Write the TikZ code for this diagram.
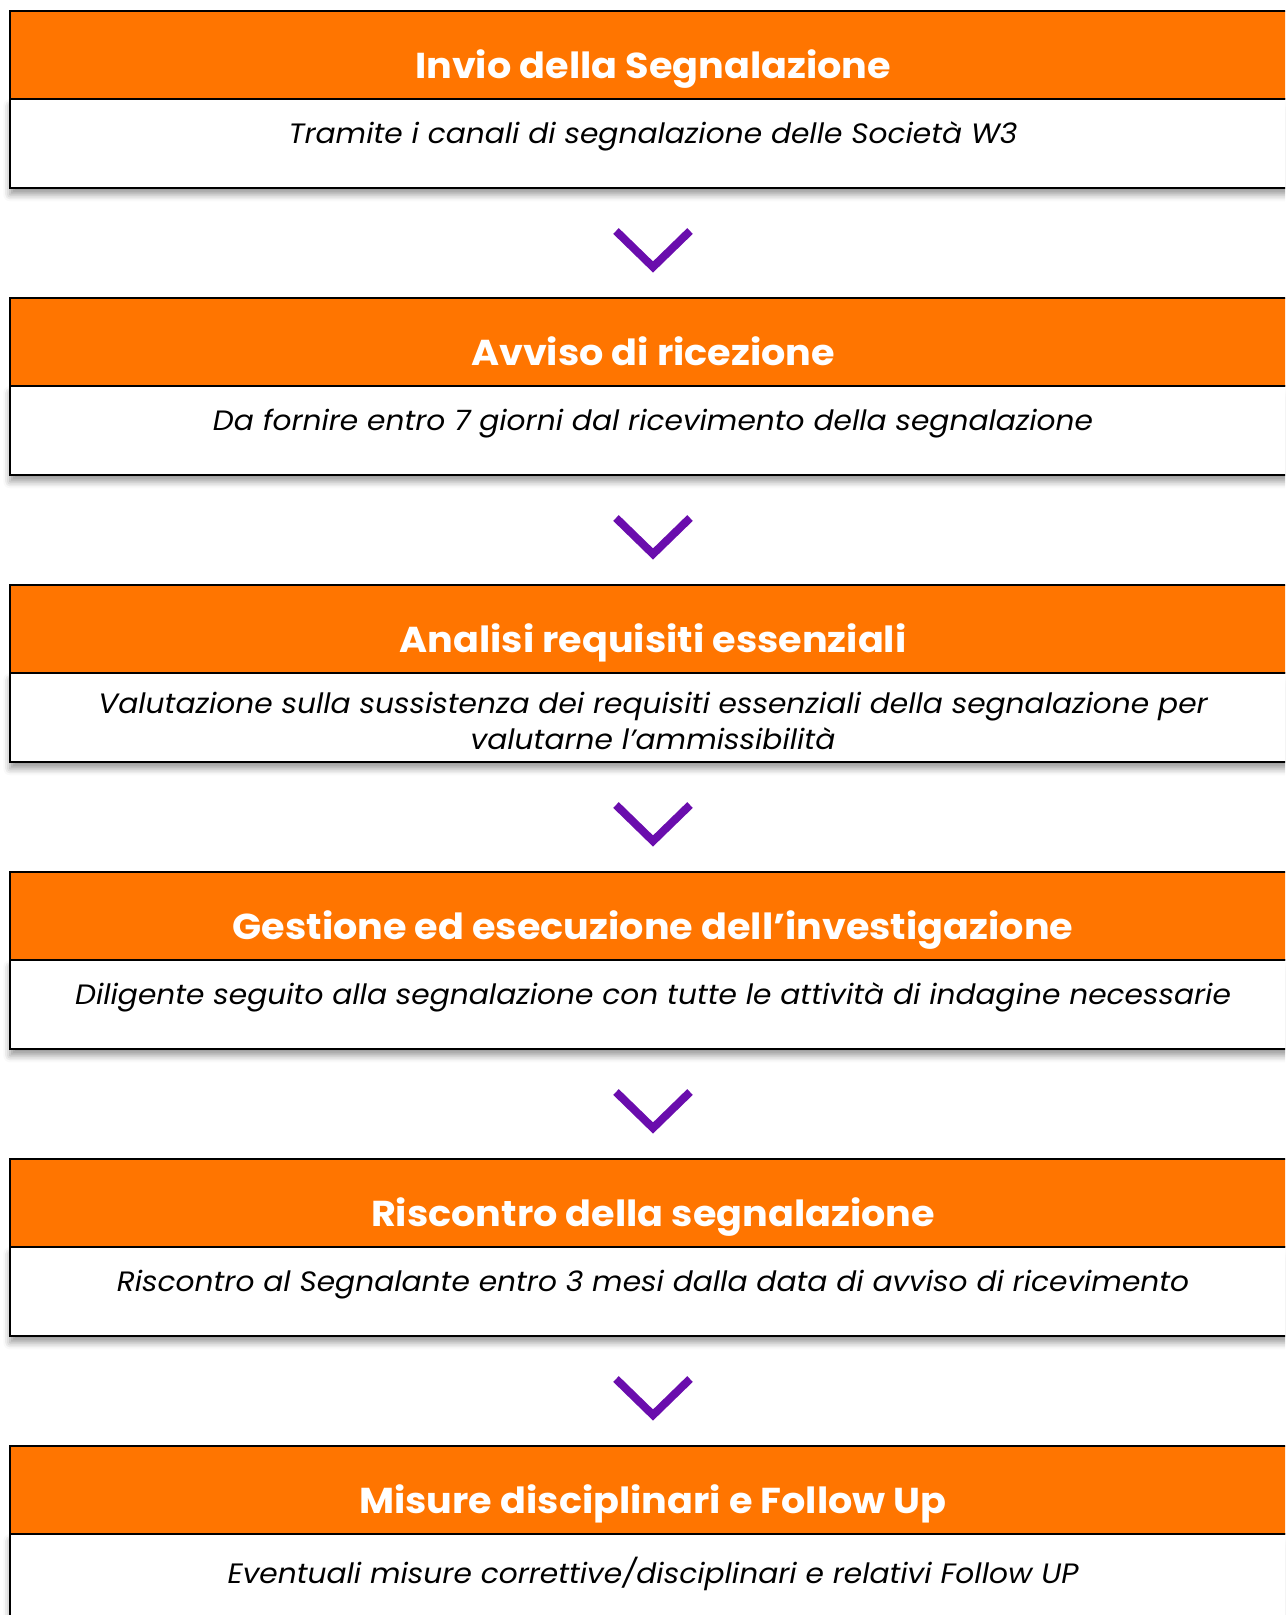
\documentclass[tikz,border=0pt]{standalone}
\usepackage{fontspec}
\setmainfont{Poppins}
\usetikzlibrary{positioning,shadows.blur,calc}
\definecolor{stepOrange}{RGB}{255,117,0}
\definecolor{chevPurple}{RGB}{106,13,173}
\tikzset{head/.style = {draw=black, line width=1.9pt, fill=stepOrange, text=white, minimum width=964.5pt, minimum height=66pt, inner sep=0pt, outer sep=0pt, font=\bfseries\addfontfeature{FakeStretch=1.06}\fontsize{27}{32}\selectfont, text height=35pt, text depth=0pt}}
\tikzset{body/.style = {draw=black, line width=1.9pt, fill=white, minimum width=964.5pt, minimum height=66.75pt, inner sep=0pt, outer sep=0pt, blur shadow={shadow xshift=0pt, shadow yshift=-5pt, shadow blur radius=5pt}}}
\tikzset{note/.style = {font=\itshape\addfontfeature{FakeStretch=1.06}\fontsize{21}{27}\selectfont, align=center, inner sep=0pt}}
\tikzset{chev/.style = {draw=chevPurple, line width=6pt}}

\begin{document}
\begin{tikzpicture}[x=0.75pt, y=-0.75pt]
			\useasboundingbox (0,0) rectangle (1285,1615);
			\clip (0,0) rectangle (1285,1615);

			\node [head] (h1) at (653, 55) {Invio della Segnalazione};
			\node [body, below=0pt of h1] (b1) {};
			\node [note, below=17pt of h1] (n1) {Tramite i canali di segnalazione delle Società W3};

			\node [head] (h2) at (653, 342) {Avviso di ricezione};
			\node [body, below=0pt of h2] (b2) {};
			\node [note, below=17pt of h2] (n2) {Da fornire entro 7 giorni dal ricevimento della segnalazione};

			\node [head] (h3) at (653, 629) {Analisi requisiti essenziali};
			\node [body, below=0pt of h3] (b3) {};
			\node [note, below=14pt of h3] (n3) {Valutazione sulla sussistenza dei requisiti essenziali della segnalazione per\\valutarne l’ammissibilità};

			\node [head] (h4) at (653, 916) {Gestione ed esecuzione dell’investigazione};
			\node [body, below=0pt of h4] (b4) {};
			\node [note, below=17pt of h4] (n4) {Diligente seguito alla segnalazione con tutte le attività di indagine necessarie};

			\node [head] (h5) at (653, 1203) {Riscontro della segnalazione};
			\node [body, below=0pt of h5] (b5) {};
			\node [note, below=17pt of h5] (n5) {Riscontro al Segnalante entro 3 mesi dalla data di avviso di ricevimento};

			\node [head] (h6) at (653, 1490) {Misure disciplinari e Follow Up};
			\node [body, below=0pt of h6] (b6) {};
			\node [note, below=17pt of h6] (n6) {Eventuali misure correttive/disciplinari e relativi Follow UP};

			% chevrons between the steps
			\foreach \i in {1,...,5} {
				\draw [chev] ($(b\i.south)+(-37,43)$) -- ($(b\i.south)+(0,79)$) -- ($(b\i.south)+(37,43)$);
			}
		\end{tikzpicture}
\end{document}
